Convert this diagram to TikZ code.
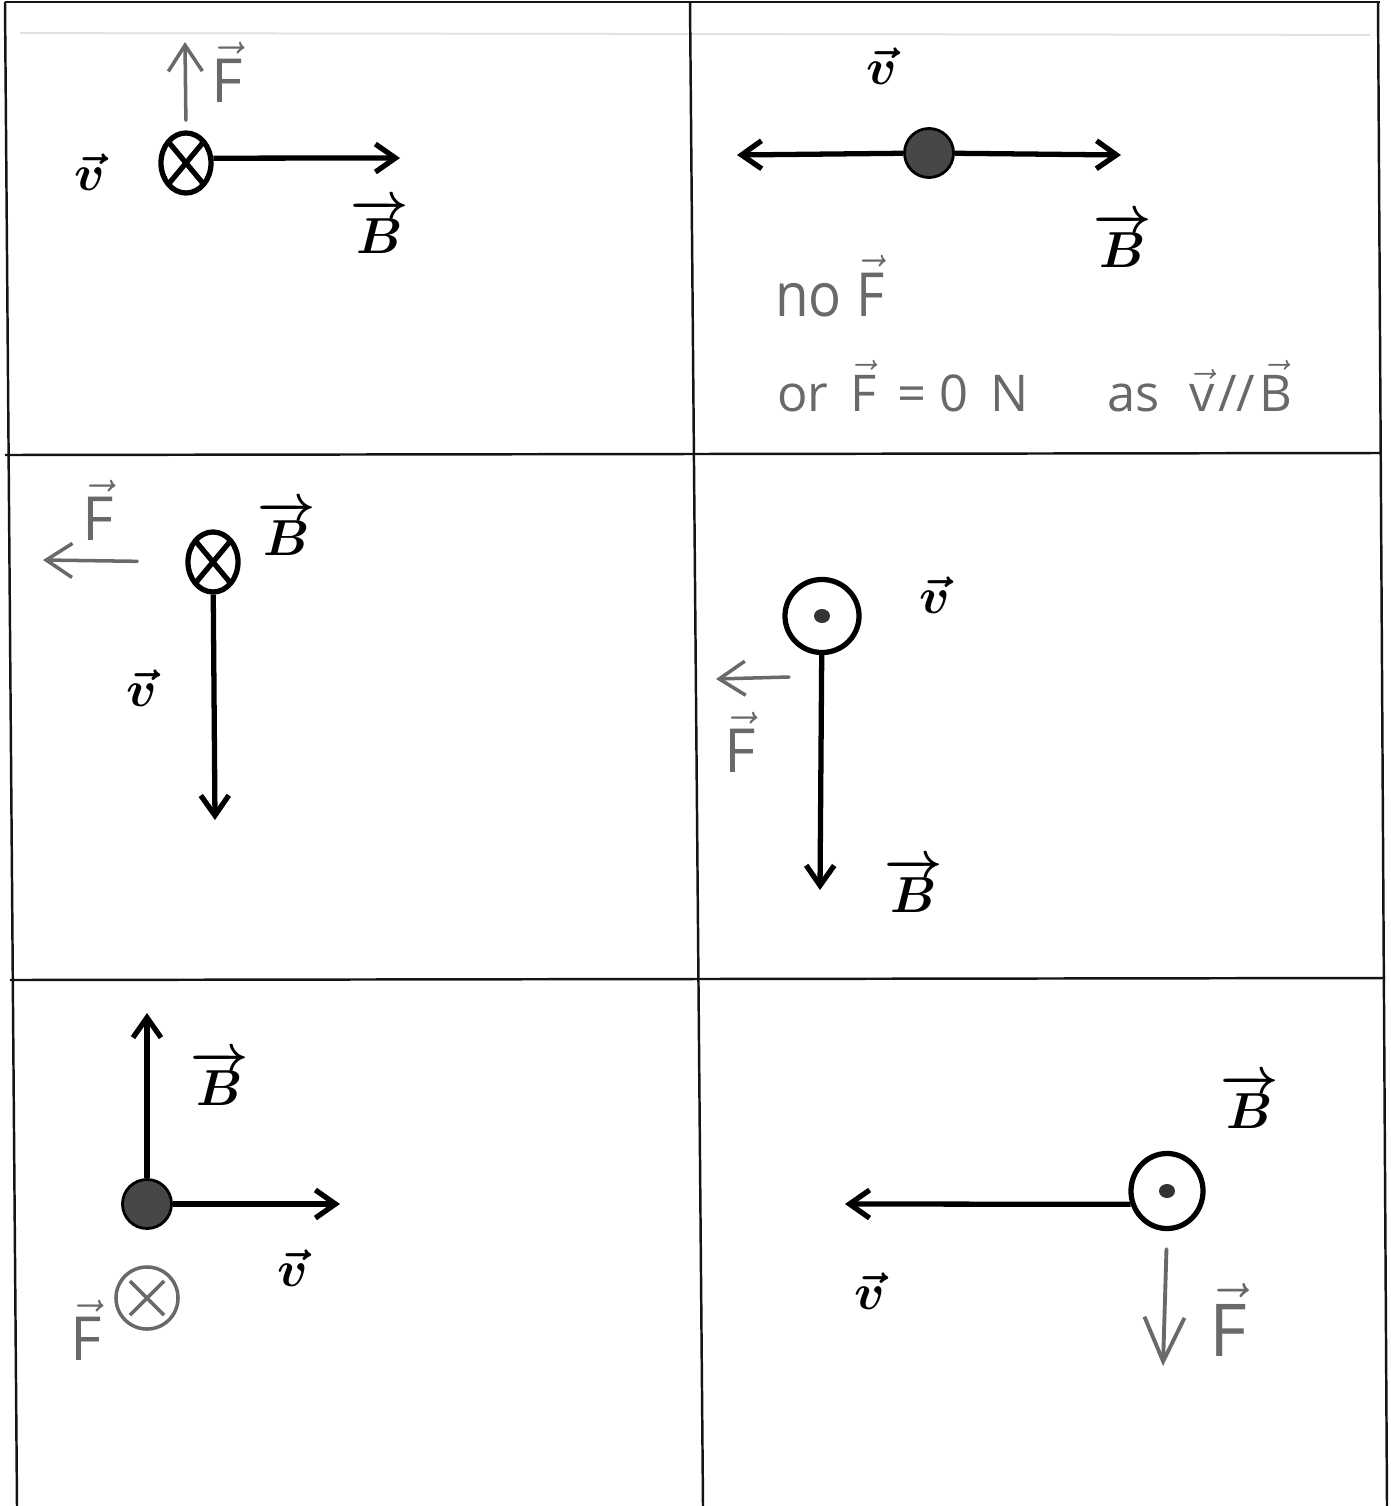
\documentclass[tikz,border=0pt]{standalone}
\usepackage{amsmath}
\usepackage{fontspec}
\usepackage{tikz}
\usetikzlibrary{positioning, arrows.meta, shapes.geometric, calc}
\newfontfamily\handfont{Open Sans}
\definecolor{pencil}{RGB}{105,105,105}
\definecolor{tableline}{RGB}{20,20,20}
\newcommand{\hvec}[1]{\ensuremath{\vec{\mbox{#1}}}}

\begin{document}
\begin{tikzpicture}[
    x=0.01cm, y=-0.01cm,
    grid/.style={draw=tableline, line width=0.7pt},
    vec/.style={line width=1.5pt, -{Straight Barb[length=2mm,width=2.8mm]}},
    ink/.style={pencil, line width=1pt, line cap=round,
                -{Straight Barb[length=2.6mm,width=3.4mm]}},
    inkbig/.style={pencil, line width=1.1pt, line cap=round,
                   -{Straight Barb[length=4.4mm,width=4mm]}},
    intopage/.style={ellipse, draw, line width=1.5pt, inner sep=0pt,
                     minimum width=0.5cm, minimum height=0.6cm, fill=white,
                     path picture={\draw[line width=1.5pt]
                       (path picture bounding box.north west) -- (path picture bounding box.south east)
                       (path picture bounding box.south west) -- (path picture bounding box.north east);}},
    outofpage/.style={ellipse, draw, line width=1.5pt, inner sep=0pt, fill=white,
                      minimum width=0.74cm, minimum height=0.73cm,
                      path picture={\fill[black!80] (path picture bounding box.center)
                        ellipse [x radius=0.8mm, y radius=0.7mm];}},
    charge/.style={circle, draw, line width=0.8pt, fill=black!72,
                   minimum size=0.49cm, inner sep=0pt},
    lbl/.style={font=\Large\boldmath, inner sep=1pt},
    hand/.style={pencil, font=\handfont\LARGE, inner sep=1pt},
  ]
  \useasboundingbox[fill=white] (0,0) rectangle (1390,1506);

  % Table
  \draw[black!12, line width=0.5pt] (20,33) -- (1370,35);
  \draw[grid] (5,2) -- (1380,2);
  \draw[grid] (5,2) -- (17,1506);
  \draw[grid] (690,2) -- (703,1506);
  \draw[grid] (1378,2) -- (1387,1506);
  \draw[grid] (5,455) -- (1380,453);
  \draw[grid] (10,980) -- (1385,978);

  % Top left
  \node[intopage] (p1) at (186,163) {};
  \coordinate (b1) at (400,158);
  \draw[vec] (p1.10) -- (b1);
  \node[lbl] (B1) at (380,226) {$\overrightarrow{B}$};
  \node[lbl] (v1) at (90,172) {$\vec{v}$};
  \coordinate (f1) at (185,42);
  \draw[ink, shorten <=1mm] (p1.north) -- (f1);
  \node[hand] (F1) at (227,72) {\hvec{F}};

  % Top right
  \node[charge] (p2) at (929,153) {};
  \coordinate (l2) at (737,155);
  \coordinate (r2) at (1121,155);
  \draw[vec] (p2) -- (l2);
  \draw[vec] (p2) -- (r2);
  \node[lbl] (v2) at (882,66) {$\vec{v}$};
  \node[lbl] (B2) at (1123,240) {$\overrightarrow{B}$};
  \node[hand, anchor=base west] (noF) at (771,316) {\scalebox{0.9}[1]{no \hvec{F}}};
  \node[hand, font=\handfont\Large, anchor=base west] (zeroF) at (773,411)
    {or\, \hvec{F}\, = 0\, N};
  \node[hand, font=\handfont\Large, right=0.7cm of zeroF.base east,
        anchor=base west] (para) {as\,\, \hvec{v}\kern1pt//\kern1pt\hvec{B}};

  % Middle left
  \node[intopage] (p3) at (213,562) {};
  \coordinate (b3) at (215,820);
  \draw[vec] (p3) -- (b3);
  \node[lbl] (B3) at (287,528) {$\overrightarrow{B}$};
  \node[lbl] (v3) at (142,688) {$\vec{v}$};
  \coordinate (f3) at (43,560);
  \draw[ink, shorten <=4.8mm] (p3.west) -- (f3);
  \node[hand] (F3) at (98,510) {\hvec{F}};

  % Middle right
  \node[outofpage] (p4) at (822,616) {};
  \coordinate (b4) at (820,890);
  \draw[vec] (p4) -- (b4);
  \node[lbl] (v4) at (935,595) {$\vec{v}$};
  \node[lbl] (B4) at (914,885) {$\overrightarrow{B}$};
  \coordinate (f4s) at (789,677);
  \coordinate (f4e) at (716,679);
  \draw[ink] (f4s) -- (f4e);
  \node[hand] (F4) at (740,742) {\hvec{F}};

  % Bottom left
  \node[charge] (p5) at (147,1204) {};
  \coordinate (b5) at (147,1013);
  \coordinate (v5e) at (340,1204);
  \draw[vec] (p5) -- (b5);
  \draw[vec] (p5) -- (v5e);
  \node[lbl] (B5) at (220,1078) {$\overrightarrow{B}$};
  \node[lbl] (v5) at (293,1268) {$\vec{v}$};
  \node[circle, draw=pencil, line width=1pt, minimum size=0.62cm, inner sep=0pt,
        path picture={\draw[pencil, line width=1pt]
          ($(path picture bounding box.center)+(-0.17cm,-0.17cm)$) -- ++(0.34cm,0.34cm)
          ($(path picture bounding box.center)+(-0.17cm,0.17cm)$) -- ++(0.34cm,-0.34cm);}]
    (fx5) at (147,1298) {};
  \node[hand] (F5) at (86,1330) {\hvec{F}};

  % Bottom right
  \node[outofpage, minimum width=0.72cm, minimum height=0.75cm] (p6) at (1167,1191) {};
  \coordinate (b6) at (845,1204);
  \draw[vec] (p6.200) -- (b6);
  \node[lbl] (B6) at (1250,1101) {$\overrightarrow{B}$};
  \node[lbl] (v6) at (870,1291) {$\vec{v}$};
  \coordinate (f6) at (1163,1366);
  \draw[inkbig, shorten <=1.8mm] (p6.south) -- (f6);
  \node[hand, font=\handfont\huge] (F6) at (1228,1320) {\hvec{F}};

\end{tikzpicture}
\end{document}
